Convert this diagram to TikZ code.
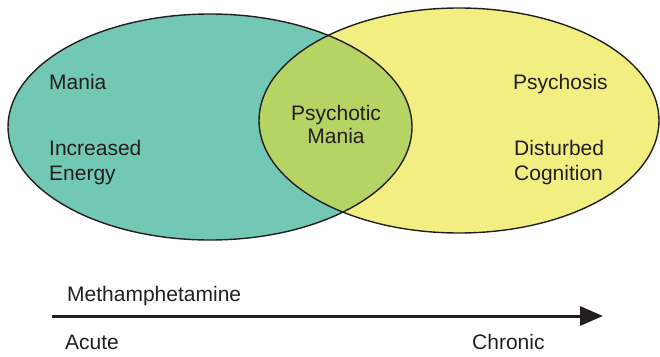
\documentclass[tikz,border=0pt]{standalone}
\usepackage{fontspec}
\setmainfont{Liberation Sans}
\usetikzlibrary{arrows.meta}
\definecolor{tealfill}{HTML}{72C8B4}
\definecolor{yellowfill}{HTML}{F2EE82}
\definecolor{lensfill}{HTML}{B6D463}
\definecolor{inkgray}{HTML}{231F20}
\tikzset{
  vennline/.style={draw=inkgray, line width=1.4pt},
  biglabel/.style={inner sep=0pt, text=inkgray, font=\fontsize{21}{25}\selectfont},
  axislabel/.style={inner sep=0pt, text=inkgray, font=\fontsize{21}{25}\selectfont},
  axisarrow/.style={draw=inkgray, line width=3pt, -{Triangle[length=23pt,width=19pt]}}
}
\begin{document}
\begin{tikzpicture}[x=1pt,y=-1pt]
\useasboundingbox (0,0) rectangle (660,356);
% ellipses
\fill[tealfill] (210,127) ellipse [x radius=202, y radius=113];
\fill[yellowfill] (459,120.5) ellipse [x radius=200, y radius=112.5];
\begin{scope}
  \clip (210,127) ellipse [x radius=202, y radius=113];
  \fill[lensfill] (459,120.5) ellipse [x radius=200, y radius=112.5];
\end{scope}
\draw[vennline] (210,127) ellipse [x radius=202, y radius=113];
\draw[vennline] (459,120.5) ellipse [x radius=200, y radius=112.5];
% labels
\node[biglabel, anchor=base west] (mania) at (49,89) {Mania};
\node[biglabel, anchor=base west] (incr) at (49,155) {Increased};
\node[biglabel, anchor=base west] (energy) at (49,180) {Energy};
\node[biglabel, anchor=base] (psyc) at (336,120) {Psychotic};
\node[biglabel, anchor=base] (pmania) at (336,143) {Mania};
\node[biglabel, anchor=base west] (psychosis) at (513,89) {Psychosis};
\node[biglabel, anchor=base west] (dist) at (514,155) {Disturbed};
\node[biglabel, anchor=base west] (cogn) at (514,180) {Cognition};
% axis
\coordinate (axstart) at (52,316);
\coordinate (axend) at (603,316);
\draw[axisarrow] (axstart) -- (axend);
\node[axislabel, anchor=base west] (meth) at (67,301) {Methamphetamine};
\node[axislabel, anchor=base west] (acute) at (65,349) {Acute};
\node[axislabel, anchor=base west] (chronic) at (472,349) {Chronic};
\end{tikzpicture}
\end{document}
